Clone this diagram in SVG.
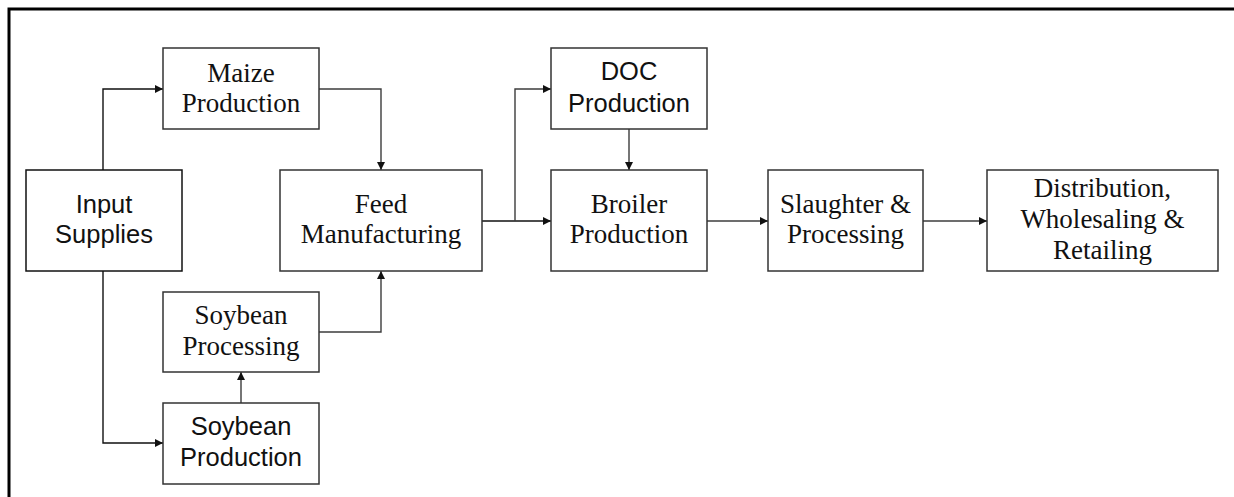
<svg xmlns="http://www.w3.org/2000/svg" width="1234" height="497" viewBox="0 0 1234 497">
  <style>
    .box { fill: #ffffff; stroke: #333333; stroke-width: 1.5; }
    .box.dark { stroke: #111111; }
    .serif { font-family: "Liberation Serif", "Times New Roman", serif; font-size: 27px; fill: #111111; text-anchor: middle; }
    .sans { font-family: "Liberation Sans", Arial, sans-serif; font-size: 25.5px; fill: #111111; text-anchor: middle; }
    .link { fill: none; stroke: #3c3c3c; stroke-width: 1.4; }
    .link.dark { stroke: #111111; }
    .frame { fill: none; stroke: #000000; stroke-width: 3; }
  </style>
  <defs>
    <marker id="arrow" viewBox="0 0 10 10" refX="10" refY="5" markerWidth="8" markerHeight="8" markerUnits="userSpaceOnUse" orient="auto">
      <path d="M0,0 L10,5 L0,10 Z" fill="#111111"/>
    </marker>
  </defs>

  <rect width="1234" height="497" fill="#ffffff"/>

  <!-- outer frame (top and left edges) -->
  <path class="frame" d="M9,497 V9 H1234"/>

  <!-- connectors -->
  <g id="connectors">
    <path class="link dark" d="M103,170 V89 H163" marker-end="url(#arrow)"/>
    <path class="link dark" d="M103,271 V443 H163" marker-end="url(#arrow)"/>
    <path class="link" d="M319,89 H381 V170" marker-end="url(#arrow)"/>
    <path class="link" d="M241,403 V372" marker-end="url(#arrow)"/>
    <path class="link" d="M319,332 H381 V271" marker-end="url(#arrow)"/>
    <path class="link dark" d="M482,221 H551" marker-end="url(#arrow)"/>
    <path class="link" d="M515,221 V89 H551" marker-end="url(#arrow)"/>
    <path class="link" d="M629,129 V170" marker-end="url(#arrow)"/>
    <path class="link" d="M707,221 H768" marker-end="url(#arrow)"/>
    <path class="link" d="M923,221 H987" marker-end="url(#arrow)"/>
  </g>

  <g id="input-supplies">
    <rect class="box dark" x="26" y="170" width="156" height="101"/>
    <text class="sans" x="104" y="213">Input</text>
    <text class="sans" x="104" y="243">Supplies</text>
  </g>

  <g id="maize-production">
    <rect class="box" x="163" y="48" width="156" height="81"/>
    <text class="serif" x="241" y="82">Maize</text>
    <text class="serif" x="241" y="112">Production</text>
  </g>

  <g id="soybean-processing">
    <rect class="box" x="163" y="292" width="156" height="80"/>
    <text class="serif" x="241" y="324">Soybean</text>
    <text class="serif" x="241" y="355">Processing</text>
  </g>

  <g id="soybean-production">
    <rect class="box" x="163" y="403" width="156" height="81"/>
    <text class="sans" x="241" y="435">Soybean</text>
    <text class="sans" x="241" y="466">Production</text>
  </g>

  <g id="feed-manufacturing">
    <rect class="box" x="280" y="170" width="202" height="101"/>
    <text class="serif" x="381" y="213">Feed</text>
    <text class="serif" x="381" y="243">Manufacturing</text>
  </g>

  <g id="doc-production">
    <rect class="box" x="551" y="48" width="156" height="81"/>
    <text class="sans" x="629" y="80">DOC</text>
    <text class="sans" x="629" y="112">Production</text>
  </g>

  <g id="broiler-production">
    <rect class="box" x="551" y="170" width="156" height="101"/>
    <text class="serif" x="629" y="213">Broiler</text>
    <text class="serif" x="629" y="243">Production</text>
  </g>

  <g id="slaughter-processing">
    <rect class="box" x="768" y="170" width="155" height="101"/>
    <text class="serif" x="845.5" y="213">Slaughter &amp;</text>
    <text class="serif" x="845.5" y="243">Processing</text>
  </g>

  <g id="distribution">
    <rect class="box" x="987" y="170" width="231" height="101"/>
    <text class="serif" x="1102.5" y="197">Distribution,</text>
    <text class="serif" x="1102.5" y="228">Wholesaling &amp;</text>
    <text class="serif" x="1102.5" y="259">Retailing</text>
  </g>
</svg>
